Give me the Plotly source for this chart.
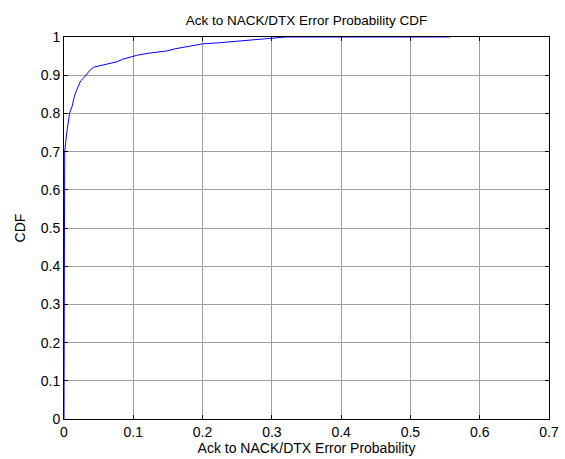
import plotly.graph_objects as go

# Empirical CDF of the Ack -> NACK/DTX error probability
err_prob = [0.0, 0.0, 0.001, 0.001, 0.004, 0.008, 0.012, 0.015, 0.018, 0.021,
            0.024, 0.028, 0.033, 0.038, 0.043, 0.050, 0.058, 0.066, 0.076,
            0.085, 0.095, 0.105, 0.120, 0.135, 0.150, 0.160, 0.180, 0.200,
            0.225, 0.250, 0.270, 0.290, 0.320, 0.557]
cdf = [0.0, 0.575, 0.600, 0.700, 0.750, 0.800, 0.820, 0.845, 0.860, 0.875,
       0.885, 0.892, 0.903, 0.914, 0.921, 0.924, 0.929, 0.931, 0.935,
       0.942, 0.948, 0.952, 0.957, 0.960, 0.964, 0.969, 0.975, 0.982,
       0.985, 0.989, 0.993, 0.997, 1.000, 1.000]

x_ticks = [0, 0.1, 0.2, 0.3, 0.4, 0.5, 0.6, 0.7]
y_ticks = [0, 0.1, 0.2, 0.3, 0.4, 0.5, 0.6, 0.7, 0.8, 0.9, 1]

font = dict(family="Liberation Sans, Arial, sans-serif", size=14, color="black")
title_font = dict(family="Liberation Sans, Arial, sans-serif", size=13.5, color="black")

fig = go.Figure()
fig.add_trace(go.Scatter(x=err_prob, y=cdf, mode="lines",
                         line=dict(color="#0000ff", width=1), showlegend=False,
                         cliponaxis=False))

axis_common = dict(showline=True, linecolor="black", linewidth=1, mirror="ticks",
                   ticks="inside", ticklen=4, tickcolor="black",
                   showgrid=True, gridcolor="#a0a0a0", gridwidth=1,
                   zeroline=False, tickfont=font, automargin=False)

fig.update_xaxes(range=[0, 0.7], tickvals=x_ticks,
                 ticktext=[f"{v:g}" for v in x_ticks],
                 title=dict(text="Ack to NACK/DTX Error Probability", font=font, standoff=3),
                 **axis_common)
fig.update_yaxes(range=[0, 1], tickvals=y_ticks,
                 ticktext=[f"{v:g}" for v in y_ticks],
                 title=dict(text="CDF", font=font, standoff=11),
                 **axis_common)

fig.update_layout(
    width=565, height=459,
    margin=dict(l=64, r=16, t=37, b=40, autoexpand=False),
    paper_bgcolor="white", plot_bgcolor="white",
    font=font,
    title=dict(text="Ack to NACK/DTX Error Probability CDF", font=title_font,
               x=0.5, xref="paper", y=1 - 20 / 459, yref="container",
               yanchor="middle"),
)

fig.write_html("out.html")
